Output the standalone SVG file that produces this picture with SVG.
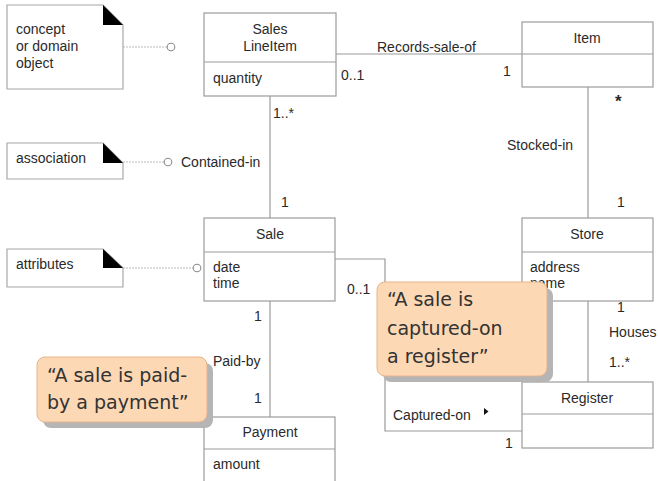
<svg xmlns="http://www.w3.org/2000/svg" width="658" height="481" viewBox="0 0 658 481">
  <defs>
    <style>
      .box { fill: #ffffff; stroke: #9c9c9c; stroke-width: 1.2; }
      .div { stroke: #9c9c9c; stroke-width: 1.2; }
      .note { fill: #ffffff; stroke: #a8a8a8; stroke-width: 1.2; }
      .fold { fill: #000000; }
      .link { fill: none; stroke: #9a9a9a; stroke-width: 1.2; }
      .dash { fill: none; stroke: #bcbcbc; stroke-width: 1.2; stroke-dasharray: 2 1; }
      .pin { fill: #ffffff; stroke: #8c8c8c; stroke-width: 1.1; }
      .t { font-family: "Liberation Sans", Arial, sans-serif; font-size: 14px; fill: #2a2a2a; }
      .c { text-anchor: middle; }
      .call { fill: #fdd8b5; stroke: #e6b48c; stroke-width: 1; }
      .shadow { fill: #b5b5b5; }
      .ct { font-family: "DejaVu Sans", "Open Sans", sans-serif; font-size: 19px; fill: #333333; }
    </style>
  </defs>

  <rect width="658" height="481" fill="#ffffff"/>

  <!-- associations -->
  <g id="connectors">
    <line class="link" x1="336" y1="54" x2="522" y2="54"/>
    <line class="link" x1="270" y1="96" x2="270" y2="218"/>
    <line class="link" x1="588" y1="87" x2="588" y2="218"/>
    <line class="link" x1="270" y1="301" x2="270" y2="417"/>
    <line class="link" x1="588" y1="301" x2="588" y2="382"/>
    <polyline class="link" points="335,259 385,259 385,431 522,431"/>
    <polygon points="484,408 488.5,411.5 484,415" fill="#111"/>
    <!-- note attachments -->
    <line class="dash" x1="123" y1="47" x2="167" y2="47"/>
    <circle class="pin" cx="171" cy="47" r="3.8"/>
    <line class="dash" x1="123" y1="162" x2="164" y2="162"/>
    <circle class="pin" cx="168" cy="162" r="3.8"/>
    <line class="dash" x1="123" y1="268" x2="193" y2="268"/>
    <circle class="pin" cx="197" cy="268" r="3.8"/>
  </g>

  <!-- association labels and multiplicities -->
  <g id="labels" class="t">
    <text x="377" y="52">Records-sale-of</text>
    <text x="341" y="80">0..1</text>
    <text x="503" y="76">1</text>
    <text x="273" y="118">1..*</text>
    <text x="181" y="167">Contained-in</text>
    <text x="281" y="207">1</text>
    <text x="615" y="107" style="font-size:17px;font-weight:bold">*</text>
    <text x="507" y="150">Stocked-in</text>
    <text x="617" y="207">1</text>
    <text x="254" y="321">1</text>
    <text x="213" y="366">Paid-by</text>
    <text x="254" y="403">1</text>
    <text x="347" y="294">0..1</text>
    <text x="393" y="420">Captured-on</text>
    <text x="505" y="448">1</text>
    <text x="617" y="312">1</text>
    <text x="609" y="337">Houses</text>
    <text x="609" y="367">1..*</text>
  </g>

  <!-- notes -->
  <g id="note-concept">
    <polygon class="note" points="7,5 103,5 123,25 123,89 7,89"/>
    <polygon class="fold" points="103,5 103,25 123,25"/>
    <text class="t" x="16" y="34">concept</text>
    <text class="t" x="16" y="51">or domain</text>
    <text class="t" x="16" y="68">object</text>
  </g>
  <g id="note-association">
    <polygon class="note" points="7,143 103,143 123,163 123,179 7,179"/>
    <polygon class="fold" points="103,143 103,163 123,163"/>
    <text class="t" x="16" y="163">association</text>
  </g>
  <g id="note-attributes">
    <polygon class="note" points="7,249 103,249 123,268 123,287 7,287"/>
    <polygon class="fold" points="103,249 103,268 123,268"/>
    <text class="t" x="16" y="269">attributes</text>
  </g>

  <!-- classes -->
  <g id="SalesLineItem">
    <rect class="box" x="204" y="13" width="132" height="83"/>
    <line class="div" x1="204" y1="62" x2="336" y2="62"/>
    <text class="t c" x="270" y="34">Sales</text>
    <text class="t c" x="270" y="51">LineItem</text>
    <text class="t" x="213" y="83">quantity</text>
  </g>
  <g id="Item">
    <rect class="box" x="522" y="22" width="131" height="65"/>
    <line class="div" x1="522" y1="54" x2="653" y2="54"/>
    <text class="t c" x="587" y="43">Item</text>
  </g>
  <g id="Sale">
    <rect class="box" x="204" y="218" width="131" height="83"/>
    <line class="div" x1="204" y1="252" x2="335" y2="252"/>
    <text class="t c" x="270" y="239">Sale</text>
    <text class="t" x="213" y="272">date</text>
    <text class="t" x="213" y="288">time</text>
  </g>
  <g id="Store">
    <rect class="box" x="522" y="218" width="131" height="83"/>
    <line class="div" x1="522" y1="252" x2="653" y2="252"/>
    <text class="t c" x="587" y="239">Store</text>
    <text class="t" x="530" y="272">address</text>
    <text class="t" x="530" y="288">name</text>
  </g>
  <g id="Payment">
    <rect class="box" x="204" y="417" width="131" height="80"/>
    <line class="div" x1="204" y1="449" x2="335" y2="449"/>
    <text class="t c" x="270" y="437">Payment</text>
    <text class="t" x="213" y="469">amount</text>
  </g>
  <g id="Register">
    <rect class="box" x="522" y="382" width="131" height="66"/>
    <line class="div" x1="522" y1="414" x2="653" y2="414"/>
    <text class="t c" x="587" y="403">Register</text>
  </g>

  <!-- callouts -->
  <g id="callout-paid-by">
    <rect class="shadow" x="43" y="363" width="170" height="65" rx="8"/>
    <rect class="call" x="37" y="357" width="170" height="65" rx="8"/>
    <text class="ct" x="47" y="382">“A sale is paid-</text>
    <text class="ct" x="47" y="409">by a payment”</text>
  </g>
  <g id="callout-captured-on">
    <rect class="shadow" x="383" y="288" width="170" height="94" rx="8"/>
    <rect class="call" x="377" y="282" width="170" height="94" rx="8"/>
    <text class="ct" x="387" y="306">“A sale is</text>
    <text class="ct" x="387" y="335">captured-on</text>
    <text class="ct" x="387" y="363">a register”</text>
  </g>
</svg>
